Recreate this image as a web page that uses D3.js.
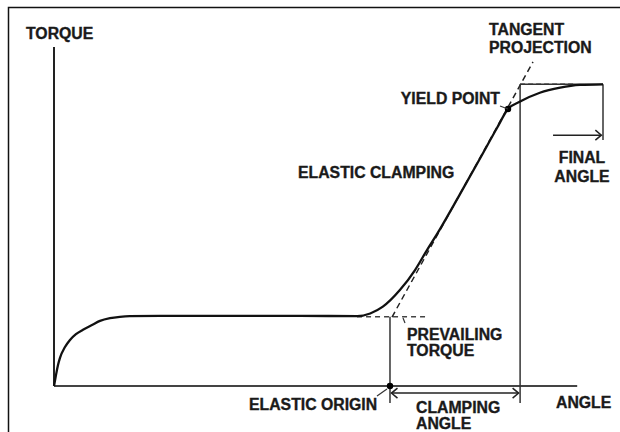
<!DOCTYPE html>
<html>
<head>
<meta charset="utf-8">
<script src="https://cdn.jsdelivr.net/npm/d3@7"></script>
<style>
html,body{margin:0;padding:0;background:#fff;}
svg{display:block;}
text{font-family:"Liberation Sans",Arial,sans-serif;font-weight:bold;font-size:15.8px;fill:#1a1a1a;stroke:#1a1a1a;stroke-width:0.35px;}
</style>
</head>
<body>
<svg id="chart" width="620" height="432"></svg>
<script>
// ---- data (angle %, torque %) ----
const curveAngle  = [0,0.36,0.73,1.09,2.0,2.91,4.0,5.28,6.92,8.38,10.2,12.0,13.8,19.3,26.6,35.7,44.8,55.2,57.6,59.9,63.0,65.76,67.94,69.76,73.95,77.6,80.69,82.7,84.9,88.5,92.2,95.8,100];
const curveTorque = [0,3.2,6.2,8.3,11.5,13.6,15.3,16.6,18.0,19.2,20.0,20.4,20.6,20.7,20.7,20.7,20.7,20.6,21.4,23.4,28.3,34.2,40.1,44.8,56.6,67.1,76.1,81.7,83.9,86.5,88.0,88.8,89.0];
const elasticOrigin = 61.2;   // angle
const yieldAngle = 82.7, yieldTorque = 81.7;
const clampAngle = 84.9;
const finalAngle = 100;
const prevailingTorque = 20.4;
const maxTorque = 89.0;
const tangentAngle  = [61.57, 87.25];
const tangentTorque = [20.35, 95.58];
const axisMaxAngle = 95.3, axisMaxTorque = 100;
const labels = {
  torque:["TORQUE"], tangent:["TANGENT","PROJECTION"], yieldPt:["YIELD POINT"],
  elastic:["ELASTIC CLAMPING"], finalA:["FINAL","ANGLE"], prevailing:["PREVAILING","TORQUE"],
  origin:["ELASTIC ORIGIN"], clamping:["CLAMPING","ANGLE"], angle:["ANGLE"]
};

const svg = d3.select("#chart");
const x = d3.scaleLinear().domain([0,100]).range([54,603]);
const y = d3.scaleLinear().domain([0,100]).range([386,47]);

// border (left + top)
svg.append("path").attr("d","M8.5,432 L8.5,7.5 L620,7.5").attr("fill","none").attr("stroke","#111").attr("stroke-width",1.5);

// axes
svg.append("line").attr("x1",x(0)).attr("x2",x(axisMaxAngle)).attr("y1",y(0)).attr("y2",y(0)).attr("stroke","#444").attr("stroke-width",2);
svg.append("line").attr("x1",x(0)).attr("x2",x(0)).attr("y1",y(0)).attr("y2",y(axisMaxTorque)).attr("stroke","#222").attr("stroke-width",2);

const thin = (x1,y1,x2,y2,w=1.5,c="#333",dash=null)=>{
  const l = svg.append("line").attr("x1",x1).attr("y1",y1).attr("x2",x2).attr("y2",y2)
    .attr("stroke",c).attr("stroke-width",w);
  if(dash) l.attr("stroke-dasharray",dash);
  return l;
};

// dashed prevailing torque line
thin(x(55.2),y(prevailingTorque),x(67.6),y(prevailingTorque),1.5,"#444","5,4");
// dashed top line
thin(x(clampAngle),y(maxTorque),x(94.9),y(maxTorque),1.5,"#333","5,3");
// dashed tangent
thin(x(tangentAngle[0]),y(tangentTorque[0]),x(tangentAngle[1]),y(tangentTorque[1]),1.5,"#222","6,4");

// verticals
thin(x(elasticOrigin),y(prevailingTorque),x(elasticOrigin),y(-5),1.5,"#333");
thin(x(clampAngle),y(maxTorque),x(clampAngle),y(-5),1.5,"#333");
thin(x(clampAngle),y(maxTorque),x(finalAngle),y(maxTorque),1.5,"#333");
thin(x(finalAngle),y(maxTorque),x(finalAngle),y(72.6),1.5,"#333");

// curve
const line = d3.line().x(d=>x(d[0])).y(d=>y(d[1])).curve(d3.curveMonotoneX);
svg.append("path").datum(d3.zip(curveAngle,curveTorque)).attr("d",line)
  .attr("fill","none").attr("stroke","#111").attr("stroke-width",2.3).attr("stroke-linejoin","round");

// dots
svg.append("circle").attr("cx",x(elasticOrigin)).attr("cy",y(0)).attr("r",3.2).attr("fill","#000");
svg.append("circle").attr("cx",x(yieldAngle)).attr("cy",y(yieldTorque)).attr("r",3.2).attr("fill","#000");

// arrows
function chevron(px,py,dir){ // dir 1 = right, -1 = left
  svg.append("path").attr("d",`M${px-dir*6},${py-5} L${px},${py} L${px-dir*6},${py+5}`)
    .attr("fill","none").attr("stroke","#222").attr("stroke-width",1.5);
}
const fy = y(74.0);
thin(x(90.9),fy,x(99.7),fy,1.5,"#222");
chevron(x(99.7),fy,1);
const cy = y(-2.1);
thin(x(elasticOrigin)+1.5,cy,x(clampAngle)-1.5,cy,1.5,"#222");
chevron(x(elasticOrigin)+1.5,cy,-1);
chevron(x(clampAngle)-1.5,cy,1);

// leaders
thin(377,396,387,389,1.2,"#333");
thin(403,318,405,323,1.2,"#333");
thin(500,106,508,109,1.2,"#333");

// labels
function txt(lines,px,py,anchor="start",lh=18){
  const t = svg.append("text").attr("x",px).attr("y",py).attr("text-anchor",anchor);
  lines.forEach((s,i)=>t.append("tspan").attr("x",px).attr("dy",i?lh:0).text(s));
}
txt(labels.torque,26,39);
txt(labels.tangent,489,35);
txt(labels.yieldPt,500,104,"end");
txt(labels.elastic,298,178);
txt(labels.finalA,582,163,"middle",19);
txt(labels.prevailing,407,340,"start",16);
txt(labels.origin,249,410);
txt(labels.clamping,416,413,"start",16);
txt(labels.angle,556,408);
</script>
</body>
</html>
